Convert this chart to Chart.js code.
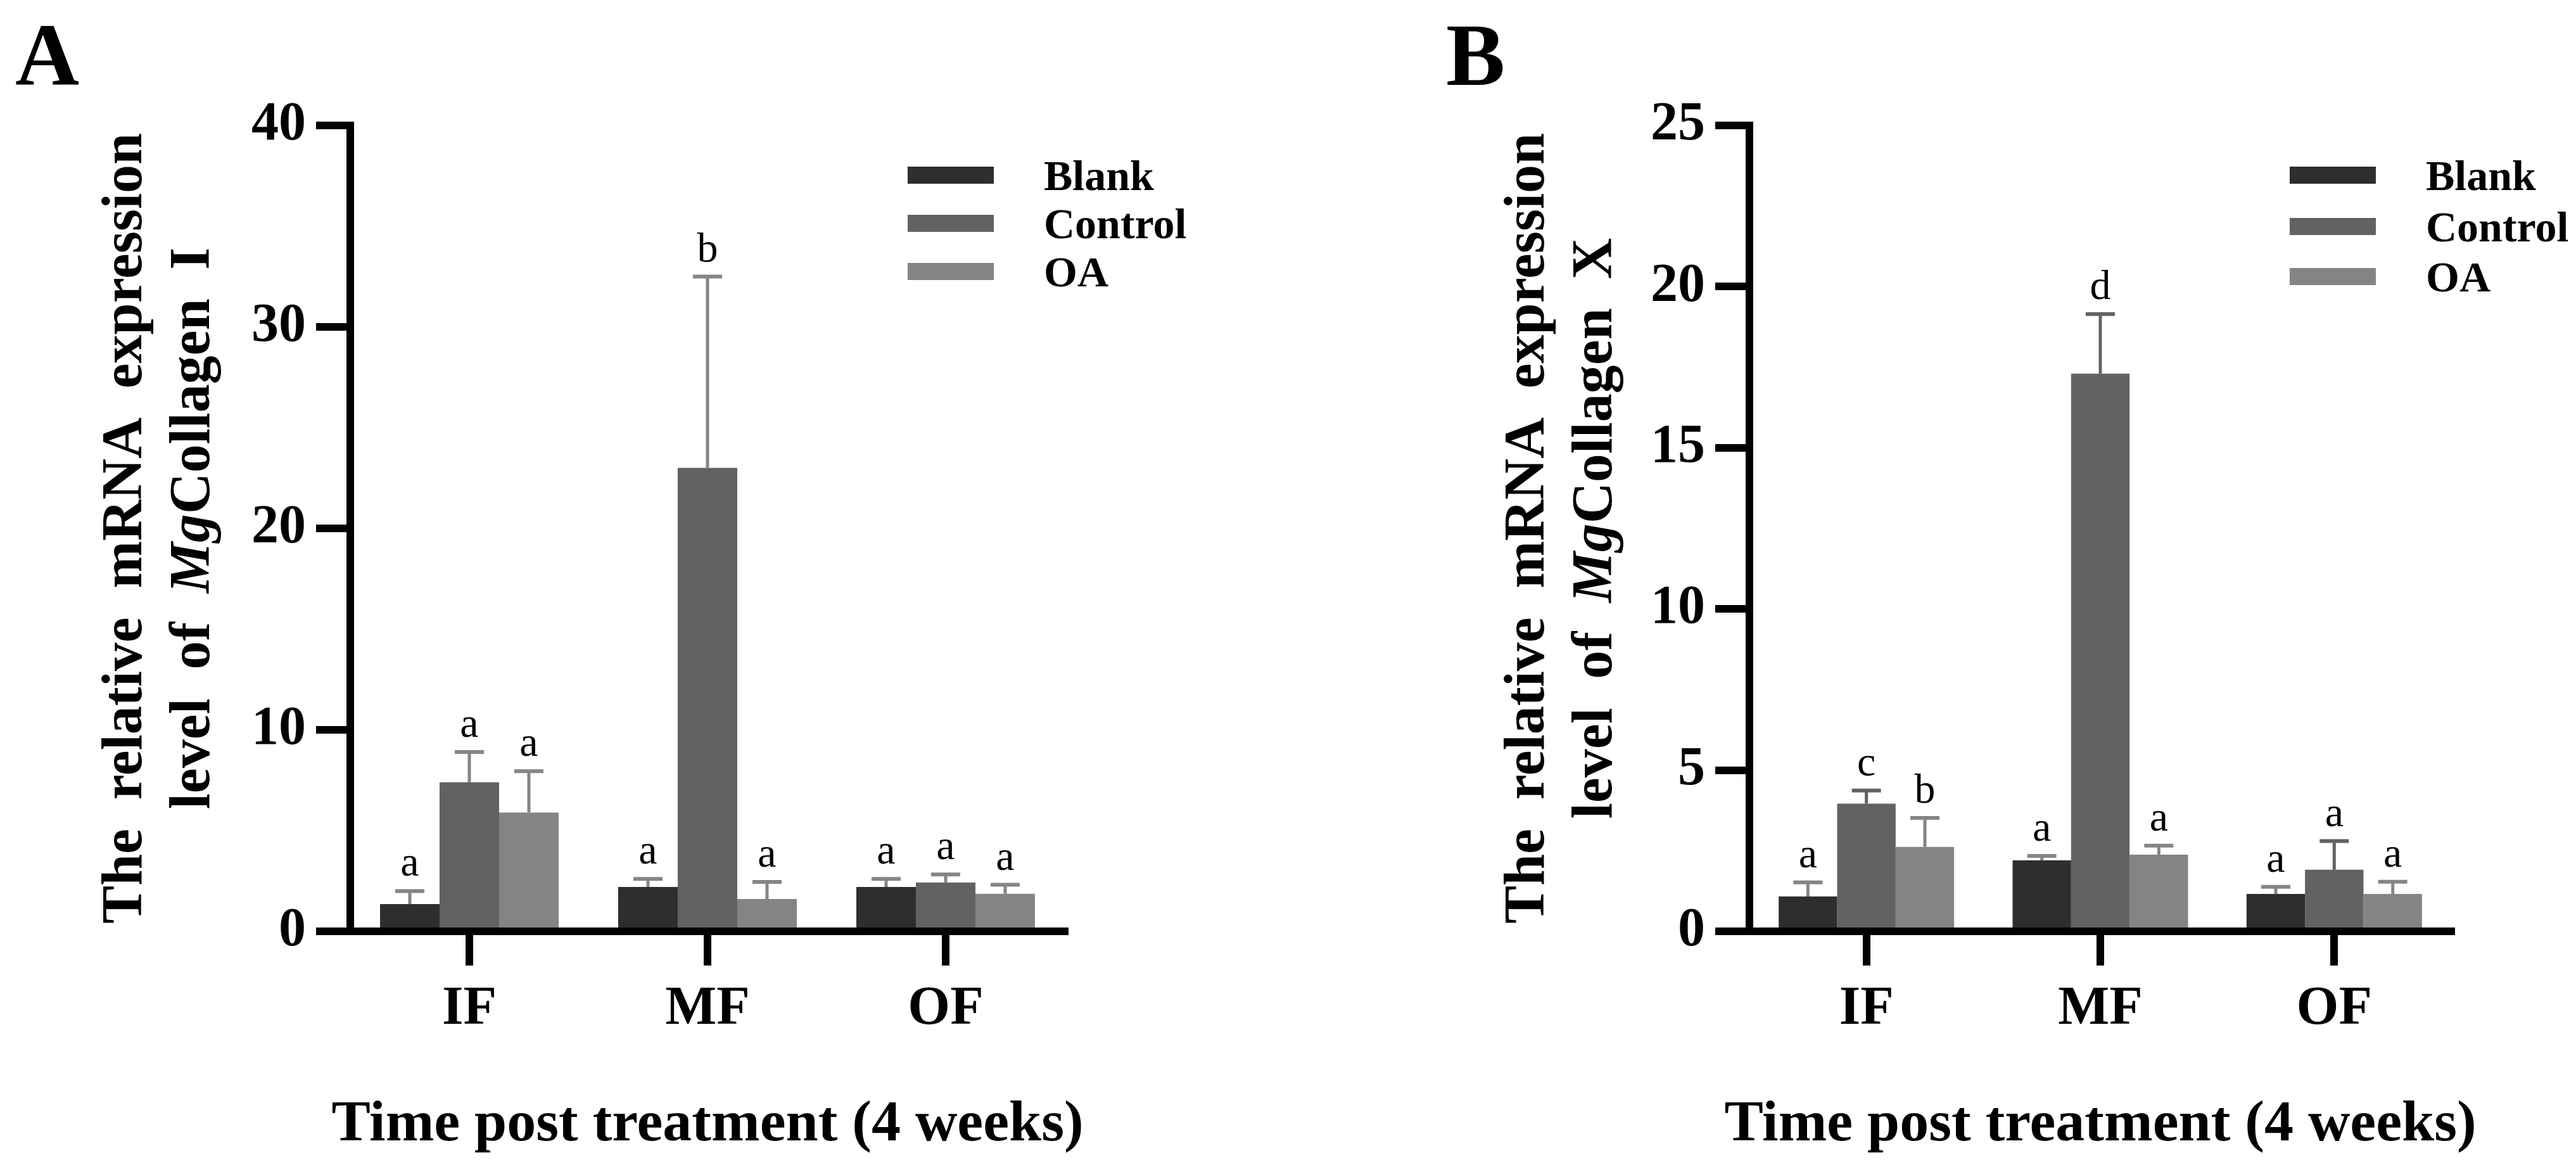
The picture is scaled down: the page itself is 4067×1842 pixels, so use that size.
<!DOCTYPE html>
<html>
<head>
<meta charset="utf-8">
<script src="https://cdn.jsdelivr.net/npm/chart.js@4/dist/chart.umd.min.js"></script>
<style>
  html, body { margin: 0; padding: 0; background: #fff; }
  body { width: 4067px; height: 1842px; position: relative; overflow: hidden; }
  .panel { position: absolute; top: 0; height: 1842px; }
</style>
</head>
<body>
<div class="panel" style="left:0; width:2210px;"><canvas id="chartA"></canvas></div>
<div class="panel" style="left:2210px; width:1857px;"><canvas id="chartB"></canvas></div>
<script>
const SERIF = '"Liberation Serif", "Times New Roman", serif';

const categories = ['IF', 'MF', 'OF'];
const seriesNames = ['Blank', 'Control', 'OA'];
const seriesColors = ['#2e2e2e', '#626262', '#848484'];

// Panel A - MgCollagen I
const blankA = [1.35, 2.2, 2.2];
const controlA = [7.4, 23.0, 2.42];
const oaA = [5.9, 1.6, 1.86];
const blankErrA = [0.65, 0.4, 0.4];
const controlErrA = [1.5, 9.5, 0.4];
const oaErrA = [2.05, 0.85, 0.45];
const blankSigA = ['a', 'a', 'a'];
const controlSigA = ['a', 'b', 'a'];
const oaSigA = ['a', 'a', 'a'];
const yMaxA = 40, yStepA = 10;

// Panel B - MgCollagen X
const blankB = [1.08, 2.2, 1.16];
const controlB = [3.96, 17.3, 1.91];
const oaB = [2.62, 2.38, 1.16];
const blankErrB = [0.44, 0.14, 0.22];
const controlErrB = [0.41, 1.85, 0.89];
const oaErrB = [0.9, 0.28, 0.38];
const blankSigB = ['a', 'a', 'a'];
const controlSigB = ['c', 'd', 'a'];
const oaSigB = ['b', 'a', 'a'];
const yMaxB = 25, yStepB = 5;

const xTitle = 'Time post treatment (4 weeks)';

// draws error bars, letters, legend and titles
const panelDecor = {
  id: 'panelDecor',
  afterDatasetsDraw(chart, args, cfg) {
    const ctx = chart.ctx;
    const y = chart.scales.y;
    ctx.save();
    cfg.values.forEach((vals, s) => {
      const meta = chart.getDatasetMeta(s);
      vals.forEach((v, i) => {
        const bx = meta.data[i].x;
        const top = y.getPixelForValue(v);
        const cap = y.getPixelForValue(v + cfg.errors[s][i]);
        ctx.strokeStyle = cfg.errColors[s];
        ctx.lineWidth = 5;
        ctx.beginPath(); ctx.moveTo(bx, top); ctx.lineTo(bx, cap); ctx.stroke();
        ctx.lineWidth = 6;
        ctx.beginPath(); ctx.moveTo(bx - 23, cap); ctx.lineTo(bx + 23, cap); ctx.stroke();
        ctx.fillStyle = '#000';
        ctx.font = '66px ' + SERIF;
        ctx.textAlign = 'center';
        ctx.textBaseline = 'alphabetic';
        ctx.fillText(cfg.sig[s][i], bx, cap - 24);
      });
    });
    ctx.restore();
  },
  afterDraw(chart, args, cfg) {
    const ctx = chart.ctx;
    const area = chart.chartArea;
    ctx.save();
    ctx.fillStyle = '#000';
    ctx.textBaseline = 'alphabetic';

    // panel letter
    ctx.font = 'bold 140px ' + SERIF;
    ctx.textAlign = 'left';
    ctx.fillText(cfg.letter, cfg.letterX, 134);

    // legend
    seriesNames.forEach((name, i) => {
      const cy = cfg.legendYs[i];
      ctx.fillStyle = seriesColors[i];
      ctx.fillRect(cfg.legendX, cy - 14, 136, 27);
      ctx.fillStyle = '#000';
      ctx.font = 'bold 68px ' + SERIF;
      ctx.fillText(name, cfg.legendX + 215, cy + 23);
    });

    // x title
    ctx.font = 'bold 92px ' + SERIF;
    ctx.textAlign = 'center';
    ctx.fillText(xTitle, (area.left + area.right) / 2, 1800);

    // y title, two lines, rotated
    const cy = (area.top + area.bottom) / 2;
    const extra = 23;
    cfg.yTitle.forEach((words, li) => {
      const widths = words.map(w => { ctx.font = w.font; return ctx.measureText(w.text).width; });
      let total = widths.reduce((a, b) => a + b, 0);
      words.forEach(w => { if (w.gap) total += extra; });
      ctx.save();
      ctx.translate(area.left - cfg.yTitleOffsets[li], cy);
      ctx.rotate(-Math.PI / 2);
      ctx.textAlign = 'left';
      let x = -total / 2;
      words.forEach((w, k) => {
        if (w.gap) x += extra;
        ctx.font = w.font;
        ctx.fillText(w.text, x, 0);
        x += widths[k];
      });
      ctx.restore();
    });
    ctx.restore();
  }
};

const B90 = 'bold 90px ' + SERIF;
const BI90 = 'italic bold 90px ' + SERIF;
function titleLines(suffix) {
  return [
    [{text: 'The '}, {text: 'relative ', gap: true}, {text: 'mRNA ', gap: true}, {text: 'expression', gap: true}].map(w => ({...w, font: B90})),
    [{text: 'level ', font: B90}, {text: 'of ', font: B90, gap: true}, {text: 'Mg', font: BI90, gap: true}, {text: 'Collagen ', font: B90}, {text: suffix, font: B90, gap: true}]
  ];
}

function makePanel(id, cfg) {
  const tickFont = {family: SERIF, size: 86, weight: 'bold'};
  const grid = {drawOnChartArea: false, drawTicks: true, tickLength: 54, tickWidth: 12, tickColor: '#000', lineWidth: 12, color: '#000'};
  return new Chart(document.getElementById(id), {
    type: 'bar',
    data: {
      labels: categories,
      datasets: seriesNames.map((name, i) => ({
        label: name,
        data: cfg.values[i],
        backgroundColor: seriesColors[i],
        borderWidth: 0,
        barPercentage: 1,
        categoryPercentage: 0.75
      }))
    },
    options: {
      responsive: true,
      maintainAspectRatio: false,
      animation: false,
      devicePixelRatio: 1,
      layout: {padding: {top: 198, right: cfg.padRight, bottom: 0, left: 0}},
      plugins: {legend: {display: false}, tooltip: {enabled: false}, panelDecor: cfg},
      scales: {
        x: {
          grid: {...grid, offset: false},
          border: {color: '#000', width: 12, z: 1},
          ticks: {color: '#000', padding: 18, font: tickFont, maxRotation: 0},
          afterFit: s => { s.height = 372; }
        },
        y: {
          min: 0,
          max: cfg.yMax,
          grid: grid,
          border: {color: '#000', width: 12, z: 1},
          ticks: {stepSize: cfg.yStep, color: '#000', padding: 16, font: tickFont},
          afterFit: s => { s.width = cfg.axisLeft; }
        }
      }
    },
    plugins: [panelDecor]
  });
}

makePanel('chartA', {
  values: [blankA, controlA, oaA],
  errors: [blankErrA, controlErrA, oaErrA],
  errColors: ['#858585', '#858585', '#858585'],
  sig: [blankSigA, controlSigA, oaSigA],
  yMax: yMaxA, yStep: yStepA,
  axisLeft: 553, padRight: 529,
  letter: 'A', letterX: 24,
  legendX: 1433, legendYs: [277, 353, 429],
  yTitle: titleLines('I'), yTitleOffsets: [330, 223]
});

makePanel('chartB', {
  values: [blankB, controlB, oaB],
  errors: [blankErrB, controlErrB, oaErrB],
  errColors: ['#858585', '#626262', '#858585'],
  sig: [blankSigB, controlSigB, oaSigB],
  yMax: yMaxB, yStep: yStepB,
  axisLeft: 552, padRight: 197,
  letter: 'B', letterX: 73,
  legendX: 1405, legendYs: [277, 358, 437],
  yTitle: titleLines('X'), yTitleOffsets: [325, 218]
});
</script>
</body>
</html>
